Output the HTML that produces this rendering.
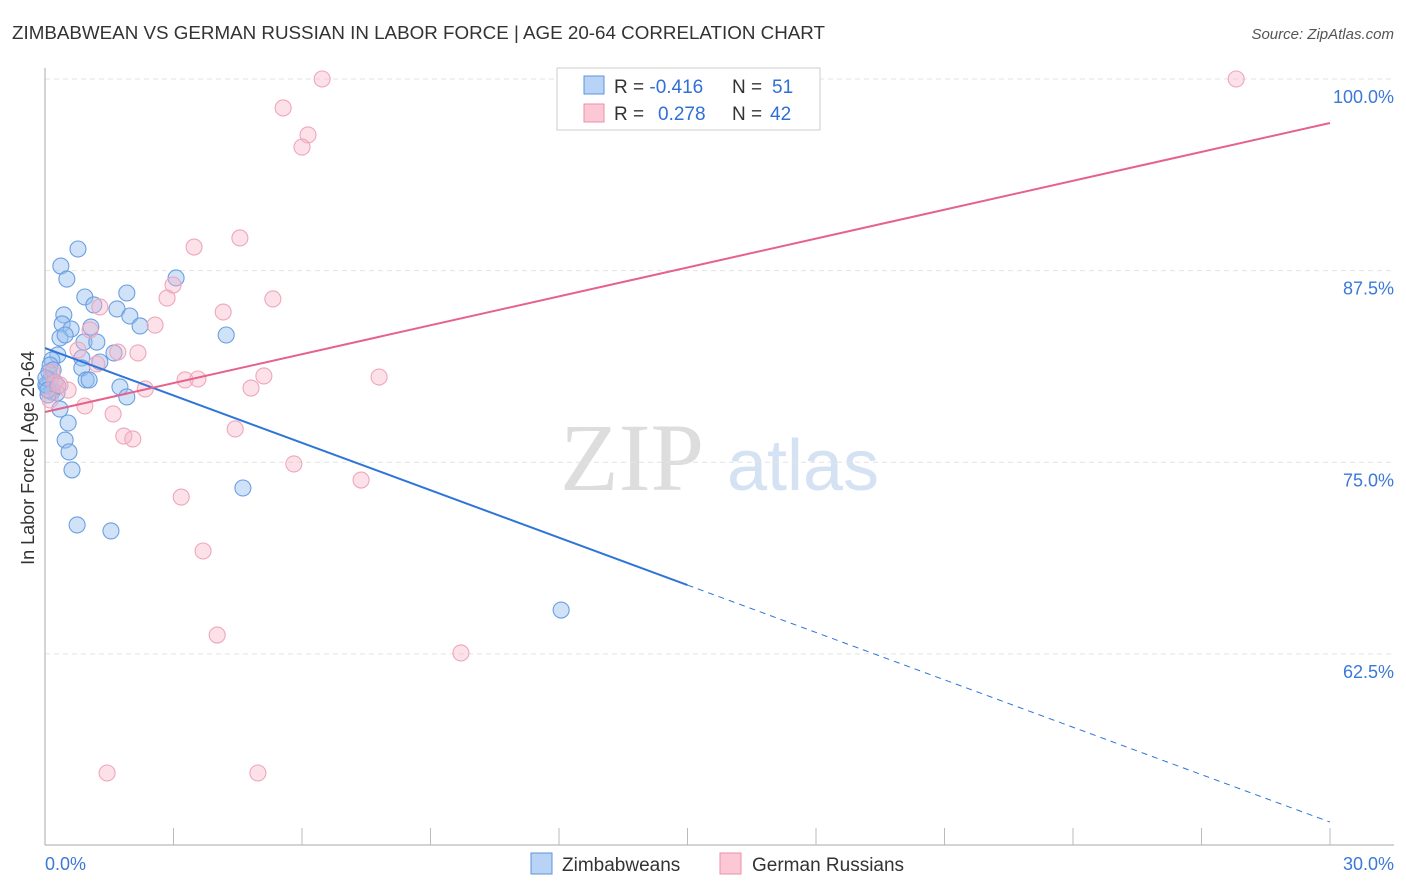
<!DOCTYPE html>
<html><head><meta charset="utf-8"><style>
body{margin:0;background:#fff;font-family:"Liberation Sans",sans-serif;}
svg{display:block}
</style></head><body>
<svg id="c" width="1406" height="892">
<text x="12" y="39" font-size="18.8" fill="#333">ZIMBABWEAN VS GERMAN RUSSIAN IN LABOR FORCE | AGE 20-64 CORRELATION CHART</text>
<text x="1394" y="39" font-size="15" fill="#555" font-style="italic" text-anchor="end">Source: ZipAtlas.com</text>
<text x="34" y="458" font-size="18" fill="#333" text-anchor="middle" transform="rotate(-90 34 458)">In Labor Force | Age 20-64</text>
<g><text x="632" y="490" font-size="96" font-family="Liberation Serif,serif" fill="#ddd" text-anchor="middle">ZIP</text><text x="803" y="490" font-size="72" fill="#d4e2f4" text-anchor="middle">atlas</text></g>
<g id="grid"></g><g id="marks"></g>
<g>
<rect x="557" y="68" width="263" height="62" fill="#fff" stroke="#ccc"/>
<rect x="584" y="76" width="20" height="18" fill="#b8d3f5" stroke="#5a94dc"/>
<rect x="584" y="104" width="20" height="18" fill="#fcc8d6" stroke="#eb8fab"/>
<text x="614" y="93" font-size="19" fill="#333">R = <tspan fill="#2f6fd6">-0.416</tspan><tspan x="732">N = </tspan><tspan fill="#2f6fd6" x="772">51</tspan></text>
<text x="614" y="120" font-size="19" fill="#333">R = <tspan fill="#2f6fd6" x="658">0.278</tspan><tspan x="732">N = </tspan><tspan fill="#2f6fd6" x="770">42</tspan></text>
</g>
<g>
<rect x="531" y="853" width="21" height="21" fill="#b8d3f5" stroke="#5a94dc"/>
<text x="562" y="871" font-size="19" fill="#333">Zimbabweans</text>
<rect x="720" y="853" width="21" height="21" fill="#fcc8d6" stroke="#eb8fab"/>
<text x="752" y="871" font-size="19" fill="#333">German Russians</text>
</g>
</svg>
<script>
const blueX=[0.77,0.37,0.51,0.93,1.91,3.06,1.14,1.68,1.98,0.44,0.40,0.61,1.07,2.22,4.23,0.35,0.91,1.21,1.61,0.30,0.86,0.16,0.86,0.09,0.12,0.96,1.03,0.05,1.75,0.16,0.28,1.91,0.35,0.54,0.47,0.56,0.63,4.62,0.75,1.54,12.05,0.07,0.02,0.23,0.12,0.19,0.02,0.07,0.30,0.47,1.28];
const blueY=[88.91,87.80,86.95,85.78,86.04,87.02,85.26,85.00,84.54,84.61,84.02,83.69,83.82,83.89,83.30,83.11,82.84,82.84,82.13,82.00,81.80,81.67,81.15,80.89,80.37,80.37,80.37,79.97,79.91,79.58,79.52,79.26,78.47,77.56,76.45,75.67,74.50,73.32,70.91,70.52,65.36,79.39,80.04,80.24,81.34,81.02,80.50,79.71,79.97,83.30,81.54];
const pinkX=[6.47,27.81,5.56,6.14,6.00,4.55,3.48,2.99,2.85,5.32,4.16,1.28,2.57,1.05,2.17,1.70,0.77,1.21,0.16,0.23,3.27,3.57,5.11,7.80,2.34,4.81,0.54,0.35,0.93,1.59,1.84,2.05,4.44,5.81,7.38,3.18,3.69,4.02,9.71,1.45,4.97,0.12];
const pinkY=[100,100,98.11,96.35,95.56,89.63,89.04,86.56,85.71,85.65,84.80,85.13,83.95,83.63,82.13,82.19,82.32,81.41,80.89,80.17,80.37,80.43,80.63,80.56,79.78,79.84,79.71,80.04,78.67,78.15,76.71,76.52,77.17,74.89,73.84,72.73,69.21,63.73,62.56,54.73,54.73,79.06];
const yTicks=[100,87.5,75,62.5];
const yTickLabels=["100.0%","87.5%","75.0%","62.5%"];
const blueTrend=[82.45,51.53];
const blueSolidEnd=15.0;
const pinkTrend=[78.28,97.13];
const NS="http://www.w3.org/2000/svg";
const sx=v=>45+v/30*1285;
const sy=v=>79+(100-v)*15.33;
function mk(t,a,p){const e=document.createElementNS(NS,t);for(const k in a)e.setAttribute(k,a[k]);p.appendChild(e);return e;}
const g=document.getElementById('grid'),m=document.getElementById('marks');
yTicks.forEach((t,i)=>{
 const l=mk('line',{x1:45,x2:1394,y1:sy(t),y2:sy(t),stroke:'#e3e3e3','stroke-dasharray':'5,4'},g);
 
 
 const tx=mk('text',{x:1394,y:sy(t)+24,'font-size':18,fill:'#3b78d8','text-anchor':'end'},g);tx.textContent=yTickLabels[i];
 
 
});
let ax=mk('line',{x1:45,x2:45,y1:68,y2:845,stroke:'#aaa'},g);


ax=mk('line',{x1:45,x2:1394,y1:845,y2:845,stroke:'#aaa'},g);


for(let i=1;i<=10;i++){const x=45+i*128.5;const t=mk('line',{x1:x,x2:x,y1:828,y2:845,stroke:'#bbb'},g);
 
 }
let t1=mk('text',{x:45,y:870,'font-size':18,fill:'#3b78d8'},g);t1.textContent='0.0%';


t1=mk('text',{x:1394,y:870,'font-size':18,fill:'#3b78d8','text-anchor':'end'},g);t1.textContent='30.0%';


function pts(X,Y,fill,stroke,name){X.forEach((x,i)=>{const c=mk('circle',{cx:sx(x),cy:sy(Y[i]),r:8,fill:fill,stroke:stroke,'stroke-width':1.1},m);
 
 });}
pts(blueX,blueY,'rgba(150,190,240,0.45)','#6a9fe0','zimbabwean-point');
pts(pinkX,pinkY,'rgba(248,180,200,0.4)','#eea6bd','german-russian-point');
const by=x=>blueTrend[0]+(blueTrend[1]-blueTrend[0])*x/30;
let L=mk('line',{x1:sx(0),y1:sy(by(0)),x2:sx(blueSolidEnd),y2:sy(by(blueSolidEnd)),stroke:'#2f74d8','stroke-width':2},m);


L=mk('line',{x1:sx(blueSolidEnd),y1:sy(by(blueSolidEnd)),x2:sx(30),y2:sy(by(30)),stroke:'#2f74d8','stroke-width':1,'stroke-dasharray':'6,5'},m);


L=mk('line',{x1:sx(0),y1:sy(pinkTrend[0]),x2:sx(30),y2:sy(pinkTrend[1]),stroke:'#e5628c','stroke-width':2},m);


</script>
</body></html>
